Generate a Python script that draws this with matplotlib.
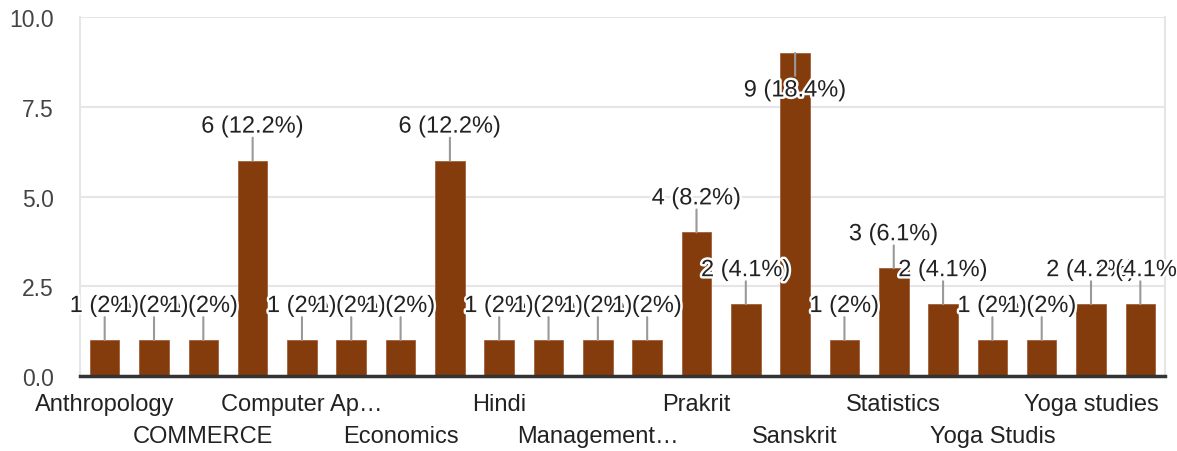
import matplotlib
matplotlib.use("Agg")
import matplotlib.pyplot as plt
import matplotlib.patheffects as pe

plt.rcParams['font.family'] = ['Liberation Sans', 'DejaVu Sans']

# categories (only every other one is printed on the axis, like the original)
subjects = ["Anthropology", "Biology", "COMMERCE", "Commerce", "Computer Ap…",
            "Computer Science", "Economics", "English", "Hindi", "History",
            "Management…", "Mathematics", "Prakrit", "Psychology", "Sanskrit",
            "Sociology", "Statistics", "Yoga", "Yoga Studis", "Yoga Study",
            "Yoga studies", "Zoology"]
counts = [1, 1, 1, 6, 1, 1, 1, 6, 1, 1, 1, 1, 4, 2, 9, 1, 3, 2, 1, 1, 2, 2]
y_ticks = [0, 2.5, 5, 7.5, 10]

total = sum(counts)
bar_color = "#843C0C"

fig = plt.figure(figsize=(11.77, 4.52), dpi=100)
ax = fig.add_axes([0.068, 0.166, 0.9218, 0.794])

xs = list(range(len(counts)))
ax.bar(xs, counts, width=0.6, color=bar_color, edgecolor="#a0603a", linewidth=0.6, zorder=3)

ax.set_xlim(-0.5, len(counts) - 0.5)
ax.set_ylim(0, 10)
ax.set_yticks(y_ticks)
ax.set_yticklabels([f"{t:.1f}" for t in y_ticks])
ax.yaxis.grid(True, color="#e6e6e6", linewidth=1.5, zorder=0)
ax.set_axisbelow(True)

for side in ["left", "right", "top"]:
    ax.spines[side].set_color("#e6e6e6")
    ax.spines[side].set_linewidth(1.5)
ax.spines["top"].set_visible(False)
ax.spines["bottom"].set_color("#333333")
ax.spines["bottom"].set_linewidth(2.5)
ax.spines["bottom"].set_zorder(5)
ax.tick_params(axis="y", length=0, labelsize=16.5, labelcolor="#444444", pad=19)
ax.tick_params(axis="x", length=0)
ax.set_xticks([])

# staggered category labels, every second category
for i in range(0, len(subjects), 2):
    row = (i // 2) % 2
    ax.annotate(subjects[i], xy=(i, 0), xycoords=("data", "axes fraction"),
                xytext=(0, -20.5 - row * 23), textcoords="offset points",
                ha="center", va="center", fontsize=17, color="#222222")

# value labels with leader lines
for i, v in enumerate(counts):
    pct = round(v / total * 100, 1)
    label = f"{v} ({pct:g}%)"
    up = v + 1.4 <= 10
    ax.annotate("", xy=(i, v), xytext=(0, 16.5 if up else -16.5), textcoords="offset points",
                arrowprops=dict(arrowstyle="-", color="#999999", lw=1.5,
                                shrinkA=0, shrinkB=0), zorder=4)
    ax.annotate(label, xy=(i, v), xytext=(0, 24.5 if up else -27), textcoords="offset points",
                ha="center", va="center", fontsize=17, color="#222222", zorder=6,
                path_effects=[pe.withStroke(linewidth=3.5, foreground="white")])

fig.savefig("out.png", dpi=100)
